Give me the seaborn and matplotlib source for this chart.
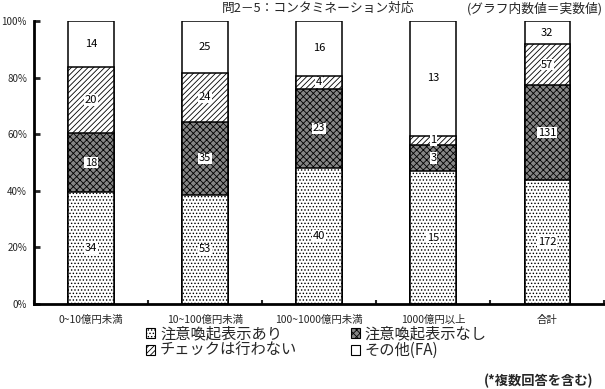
import numpy as np
import pandas as pd
import seaborn as sns
import matplotlib.pyplot as plt
import matplotlib.ticker as mtick
from matplotlib.patches import Patch

# データ（グラフ内数値＝実数値）
categories = ["0~10億円未満", "10~100億円未満", "100~1000億円未満", "1000億円以上", "合計"]
series_names = ["注意喚起表示あり", "注意喚起表示なし", "チェックは行わない", "その他(FA)"]
ari = [34, 53, 40, 15, 172]
nashi = [18, 35, 23, 3, 131]
check = [20, 24, 4, 1, 57]
sonota = [14, 25, 16, 13, 32]

sns.set_theme(style="white")
plt.rcParams["font.family"] = ["Noto Sans CJK JP", "DejaVu Sans"]
plt.rcParams["hatch.linewidth"] = 0.6

counts = np.array([ari, nashi, check, sonota], dtype=float)
pct = counts / counts.sum(axis=0) * 100
cum = np.cumsum(pct, axis=0)

styles = [
    dict(facecolor="white", hatch="....."),
    dict(facecolor="#858585", hatch="xxxxx"),
    dict(facecolor="white", hatch="//////"),
    dict(facecolor="white", hatch=""),
]

fig = plt.figure(figsize=(6.05, 3.89), dpi=100)
ax = fig.add_axes([0.056, 0.2185, 0.943, 0.7275])

# 上から順に累積値を重ねて描く
for i in [3, 2, 1, 0]:
    df = pd.DataFrame({"cat": categories, "val": cum[i]})
    sns.barplot(data=df, x="cat", y="val", ax=ax, width=0.4,
                edgecolor="black", linewidth=1.1, **styles[i])

# 数値ラベル
for i in range(4):
    bottoms = cum[i] - pct[i]
    for j in range(len(categories)):
        yc = bottoms[j] + pct[i][j] / 2
        box = None if i == 3 else dict(facecolor="white", edgecolor="none", pad=0.5)
        ax.text(j, yc, f"{int(counts[i][j])}", ha="center", va="center",
                fontsize=8, color="black", bbox=box)

ax.set_ylim(0, 100)
ax.set_xlim(-0.5, len(categories) - 0.5)
ax.yaxis.set_major_locator(mtick.MultipleLocator(20))
ax.yaxis.set_major_formatter(mtick.FuncFormatter(lambda v, _: f"{int(v)}%"))
ax.set(xlabel=None, ylabel=None)

for s in ["top", "right"]:
    ax.spines[s].set_visible(False)
for s in ["left", "bottom"]:
    ax.spines[s].set_color("black")
    ax.spines[s].set_linewidth(2)

ax.tick_params(axis="y", direction="in", length=4, width=2, labelsize=7, pad=5, left=True)
ax.tick_params(axis="x", which="major", length=0, labelsize=7.5, pad=8)
ax.set_xticks(np.arange(-0.5, len(categories)), minor=True)
ax.tick_params(axis="x", which="minor", direction="in", length=3, width=1.5, bottom=True)

# タイトルと注記
fig.text(0.526, 0.978, "問2－5：コンタミネーション対応", ha="center", va="center", fontsize=9.2)
fig.text(0.997, 0.978, "(グラフ内数値＝実数値)", ha="right", va="center", fontsize=9.2)
fig.text(0.98, 0.02, "(*複数回答を含む)", ha="right", va="center", fontsize=9.5, fontweight="bold")

# 凡例（行方向に並べる）
order = [0, 2, 1, 3]
handles = [Patch(edgecolor="black", linewidth=0.8, **styles[k]) for k in order]
labels = [series_names[k] for k in order]
fig.legend(handles, labels, loc="center", bbox_to_anchor=(0.523, 0.12), ncol=2,
           frameon=False, fontsize=11, handlelength=0.6, handleheight=0.6,
           handletextpad=0.3, columnspacing=3.5, labelspacing=0.0, borderpad=0)

plt.savefig("out.png", dpi=100)
